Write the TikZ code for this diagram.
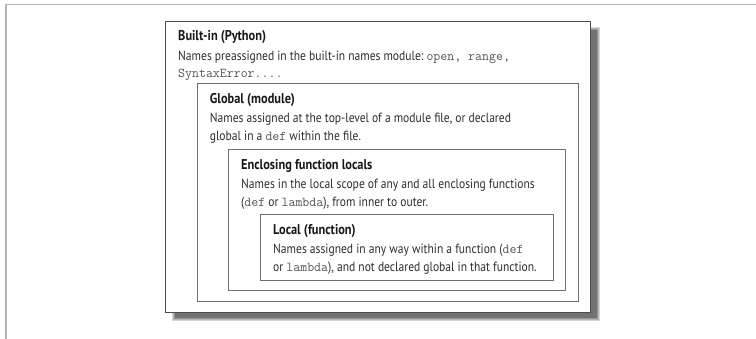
\documentclass[tikz,border=0pt]{standalone}
\usepackage{fontspec}
\setmainfont[FakeStretch=0.87]{PT Sans}
\usepackage{tikz}
\usetikzlibrary{calc, positioning}
\definecolor{frameGray}{HTML}{B4B4B4}
\definecolor{boxGray}{HTML}{6E6E6E}
\definecolor{bodyGray}{HTML}{2E2E2E}
\definecolor{codeGray}{HTML}{555555}
\tikzset{
    outerBox/.style={rectangle, draw=boxGray!70!black, line width=1.3pt, fill=white, anchor=north west, inner sep=0pt},
    scopeBox/.style={rectangle, draw=boxGray, line width=0.9pt, anchor=north west, inner sep=0pt},
    scopeTitle/.style={anchor=base west, inner sep=0pt, text=black!90, font=\bfseries\fontsize{14.2}{17}\selectfont},
    scopeBody/.style={anchor=base west, inner sep=0pt, text=bodyGray, font=\fontsize{13.3}{17}\selectfont},
    boxShadow/.style={fill=black, opacity=0.16},
}
\newcommand{\code}[1]{{\color{codeGray}\ttfamily\fontsize{13.5}{17}\selectfont #1}}
% box name, title, first line, second line
\newcommand{\scopeLabel}[4]{
    \node[scopeTitle] (#1Title) at ($(#1.north west)+(13,20.3)$) {#2};
    \node[scopeBody] (#1LineA) at ($(#1Title.base west)+(0,19.5)$) {#3};
    \node[scopeBody] (#1LineB) at ($(#1LineA.base west)+(0,17.3)$) {#4};
}

\begin{document}
\begin{tikzpicture}[x=1pt, y=-1pt]
    \useasboundingbox (0,0) rectangle (756,339);

    % page frame
    \coordinate (fTL) at (6,4.7);
    \coordinate (fTR) at (756,4.7);
    \coordinate (fBL) at (6,339);
    \draw[frameGray, line width=1.4pt] (fBL) -- (fTL) -- (fTR);

    % shadow of the outer box
    \foreach \s in {0,1,2,3} {
        \fill[boxShadow] (172+\s,27+\s) rectangle (600-\s,321-\s);
    }
    \fill[black!55] (175,30) rectangle (597,318);

    % nested scopes
    \node[outerBox, minimum width=425pt, minimum height=291pt] (builtin) at (165,20.7) {};
    \node[scopeBox, minimum width=381pt, minimum height=217.7pt] (global) at (196.7,83) {};
    \node[scopeBox, minimum width=337pt, minimum height=141.5pt] (enclosing) at (228,149) {};
    \node[scopeBox, minimum width=292.7pt, minimum height=66pt] (local) at (260,214) {};

    \scopeLabel{builtin}{Built-in (Python)}
        {Names preassigned in the built-in names module:\ \code{open, range,}}
        {\code{SyntaxError....}}
    \scopeLabel{global}{Global (module)}
        {Names assigned at the top-level of a module file, or declared}
        {global in a \code{def} within the file.}
    \scopeLabel{enclosing}{Enclosing function locals}
        {Names in the local scope of any and all enclosing functions}
        {(\code{def} or \code{lambda}), from inner to outer.}
    \scopeLabel{local}{Local (function)}
        {Names assigned in any way within a function (\code{def}}
        {or \code{lambda}), and not declared global in that function.}

\end{tikzpicture}
\end{document}
